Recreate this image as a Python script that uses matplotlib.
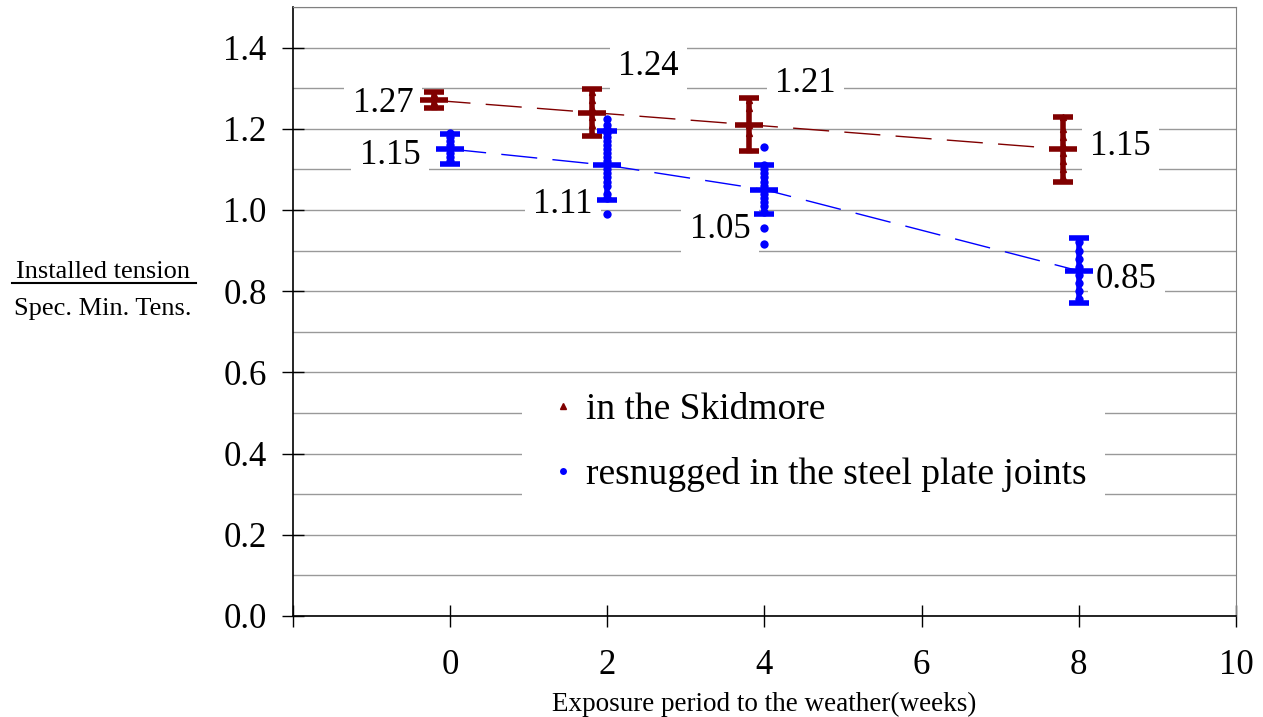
import matplotlib
matplotlib.use('Agg')
import matplotlib.pyplot as plt
from matplotlib.lines import Line2D
from matplotlib.ticker import MultipleLocator, FormatStrFormatter

plt.rcParams['font.family'] = ['Liberation Serif', 'DejaVu Serif']

# exposure period (weeks); Skidmore series is plotted slightly left of the week
weeks = [0, 2, 4, 8]
skid_x = [-0.2, 1.8, 3.8, 7.8]

# mean installed tension / spec. min. tension
skid_mean = [1.27, 1.24, 1.21, 1.15]
plate_mean = [1.15, 1.11, 1.05, 0.85]

# error bar half-widths
skid_err = [0.02, 0.058, 0.065, 0.08]
plate_err = [0.037, 0.085, 0.06, 0.08]

# individual bolt readings
skid_pts = [
    [1.255, 1.265, 1.275, 1.285],
    [1.19, 1.21, 1.23, 1.25, 1.27, 1.29],
    [1.15, 1.19, 1.21, 1.25, 1.27],
    [1.08, 1.10, 1.12, 1.14, 1.16, 1.18, 1.20, 1.23],
]
plate_pts = [
    [1.12, 1.13, 1.14, 1.15, 1.16, 1.17, 1.18, 1.19],
    [0.99, 1.03, 1.04, 1.06, 1.07, 1.08, 1.09, 1.10, 1.11, 1.12, 1.13,
     1.14, 1.15, 1.16, 1.17, 1.18, 1.19, 1.20, 1.21, 1.225],
    [0.915, 0.955, 0.995, 1.01, 1.02, 1.03, 1.04, 1.05, 1.06, 1.07, 1.08,
     1.09, 1.10, 1.11, 1.155],
    [0.78, 0.80, 0.82, 0.84, 0.86, 0.88, 0.90, 0.92],
]

# where each value label sits (x, baseline y, alignment)
skid_lab_pos = [(-0.47, 1.242, 'right'), (2.14, 1.333, 'left'),
                (4.14, 1.29, 'left'), (8.145, 1.136, 'left')]
plate_lab_pos = [(-0.38, 1.112, 'right'), (1.81, 0.993, 'right'),
                 (3.82, 0.932, 'right'), (8.22, 0.808, 'left')]

x_ticks = [-2, 0, 2, 4, 6, 8, 10]
x_ticklabels = ['', '0', '2', '4', '6', '8', '10']

red = '#800000'
blue = '#0000ff'

fig = plt.figure(figsize=(12.63, 7.17), dpi=100)
ax = fig.add_axes([0.232, 0.1409, 0.7466, 0.8494])

# trend lines through the means
ax.plot(skid_x, skid_mean, color=red, lw=1, dashes=(26, 11), zorder=2)
ax.plot(weeks, plate_mean, color=blue, lw=1, dashes=(26, 11), zorder=2)

# individual readings
for x, pts in zip(skid_x, skid_pts):
    ax.plot([x] * len(pts), pts, ls='none', marker='^', ms=5, color=red, zorder=3)
for x, pts in zip(weeks, plate_pts):
    ax.plot([x] * len(pts), pts, ls='none', marker='o', ms=6, color=blue,
            mec='none', zorder=3)

# mean +/- spread
ax.errorbar(skid_x, skid_mean, yerr=skid_err, fmt='_', color=red, ms=20,
            mew=4, elinewidth=4, capsize=7, capthick=4, zorder=4)
ax.errorbar(weeks, plate_mean, yerr=plate_err, fmt='_', color=blue, ms=20,
            mew=4, elinewidth=4, capsize=7, capthick=4, zorder=4)

# value labels on white boxes
box = dict(facecolor='white', edgecolor='none', pad=6)
for val, (lx, ly, ha) in zip(skid_mean + plate_mean, skid_lab_pos + plate_lab_pos):
    ax.text(lx, ly, f'{val:.2f}', ha=ha, va='baseline', fontsize=25,
            bbox=box, zorder=1.5)

ax.set_xlim(-2, 10)
ax.set_ylim(0, 1.5)
ax.set_xticks(x_ticks)
ax.set_xticklabels(x_ticklabels)
ax.yaxis.set_major_locator(MultipleLocator(0.2))
ax.yaxis.set_minor_locator(MultipleLocator(0.1))
ax.yaxis.set_major_formatter(FormatStrFormatter('%.1f'))
ax.grid(axis='y', which='both', color='#999999', lw=1)
ax.set_axisbelow(True)
ax.tick_params(axis='both', which='major', direction='inout', length=16,
               width=1, labelsize=25, color='black')
ax.tick_params(axis='x', pad=16)
ax.tick_params(axis='y', pad=11)
ax.tick_params(axis='y', which='minor', length=0)
for side in ['top', 'right']:
    ax.spines[side].set_color('#808080')
for side in ['left', 'bottom']:
    ax.spines[side].set_color('black')
    ax.spines[side].set_linewidth(1.2)

ax.set_xlabel('Exposure period to the weather(weeks)', fontsize=19.5, labelpad=7)

# y label drawn as a fraction
fig.text(0.0816, 0.6123, 'Installed tension', fontsize=19, ha='center', va='baseline')
fig.add_artist(Line2D([0.0095, 0.155], [0.605, 0.605], color='black', lw=1.5,
                      transform=fig.transFigure))
fig.text(0.0816, 0.561, 'Spec. Min. Tens.', fontsize=19, ha='center', va='baseline')

handles = [
    Line2D([], [], ls='none', marker='^', ms=5, color=red),
    Line2D([], [], ls='none', marker='o', ms=5, color=blue, mec='none'),
]
leg = ax.legend(handles, ['in the Skidmore', 'resnugged in the steel plate joints'],
                loc='upper left', bbox_to_anchor=(0.2428, 0.397), fontsize=27,
                frameon=True, facecolor='white', edgecolor='none', framealpha=1,
                fancybox=False, handlelength=1.2, handletextpad=0.0,
                labelspacing=0.8, borderpad=0.5, borderaxespad=0)
leg.set_zorder(5)

fig.savefig('out.png', dpi=100)
